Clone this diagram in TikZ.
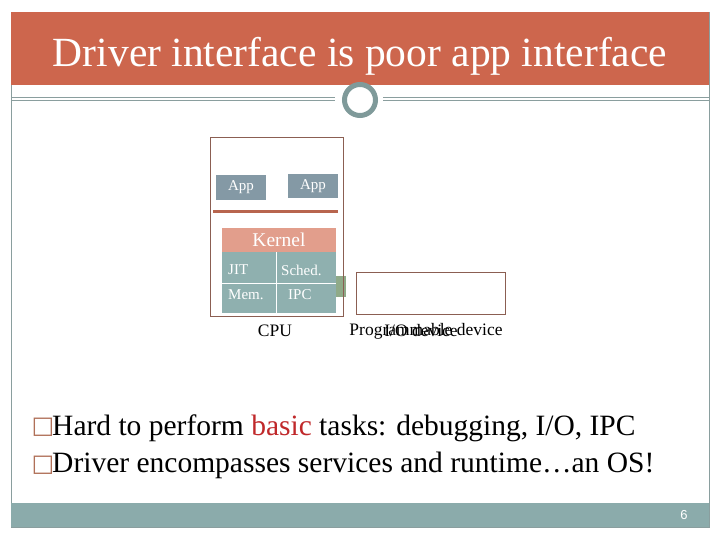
\documentclass[tikz,border=0pt]{standalone}
\usepackage{fontspec}
\setmainfont{Liberation Serif}
\newfontfamily\symfont{DejaVu Sans}
\newfontfamily\numfont{Liberation Sans}
\definecolor{titlered}{HTML}{CD664D}
\definecolor{framegray}{HTML}{8A9E9E}
\definecolor{ringgray}{HTML}{7F9A9A}
\definecolor{teal}{HTML}{8BABAB}
\definecolor{appblue}{HTML}{8499A5}
\definecolor{kernsalmon}{HTML}{E29E8C}
\definecolor{gridteal}{HTML}{8FB0AF}
\definecolor{boxbrown}{HTML}{8B5E52}
\definecolor{linered}{HTML}{B8654E}
\definecolor{greenish}{HTML}{8FAA88}
\definecolor{basicred}{HTML}{C0282A}
\definecolor{bulletbrown}{HTML}{B07058}
\begin{document}
\begin{tikzpicture}[x=1pt,y=-1pt,
  outline/.style={draw=boxbrown,line width=1pt,inner sep=0pt},
  appbox/.style={fill=appblue,text=white,inner sep=0pt,font=\fontsize{15}{15}\selectfont},
  cell/.style={inner sep=0pt,text=white,font=\fontsize{15}{15}\selectfont},
  lbl/.style={inner sep=0pt,font=\fontsize{17.5}{17.5}\selectfont},
  bulletsq/.style={inner sep=0pt,text=bulletbrown,font=\symfont\fontsize{24}{24}\selectfont},
  bullet/.style={inner sep=0pt,anchor=base west,font=\fontsize{29.5}{29.5}\selectfont}]
\useasboundingbox (0,0) rectangle (720,540);
% frame
\fill[white] (0,0) rectangle (720,540);
\draw[framegray,line width=0.8pt] (11,12) rectangle (709,527);
\fill[titlered] (11,12) rectangle (709,85);
\node[inner sep=0pt,anchor=base,text=white,font=\fontsize{41.5}{41.5}\selectfont] (title) at (360,67) {Driver interface is poor app interface};
\fill[teal] (11,503) rectangle (709,527);
\node[inner sep=0pt,text=white,font=\numfont\fontsize{13}{13}\selectfont] (num) at (684,515) {6};
% double lines with circle
\draw[framegray,line width=0.8pt] (11,97.5) -- (335,97.5) (383,97.5) -- (709,97.5);
\draw[framegray,line width=0.8pt] (11,100.5) -- (335,100.5) (383,100.5) -- (709,100.5);
\node[circle,draw=ringgray,line width=5pt,fill=white,minimum size=31pt,inner sep=0pt] (ring) at (360,100) {};
% diagram
\fill[greenish] (336,276) rectangle (346,297);
\node[outline,minimum width=133pt,minimum height=178pt] (cpu) at (276.5,227) {};
\node[appbox,minimum width=50pt,minimum height=25pt] (app1) at (241,187.5) {App};
\node[appbox,minimum width=50pt,minimum height=24pt] (app2) at (313,186.5) {App};
\coordinate (rl) at (213,212);
\coordinate (rr) at (338,212);
\draw[linered,line width=3pt] (rl) -- (rr);
\node[fill=kernsalmon,text=white,inner sep=0pt,minimum width=114pt,minimum height=24pt,font=\fontsize{19.5}{19.5}\selectfont] (kernel) at (279,240) {Kernel};
\node[fill=gridteal,inner sep=0pt,minimum width=114pt,minimum height=61pt] (grid) at (279,282.5) {};
\draw[white,line width=1pt] (276,252) -- (276,313);
\draw[white,line width=1pt] (222,283) -- (336,283);
\node[cell,anchor=west] (jit) at (228,270) {JIT};
\node[cell,anchor=west] (sched) at (281,270) {Sched.};
\node[cell,anchor=west] (mem) at (228,295) {Mem.};
\node[cell,anchor=west] (ipc) at (288,295) {IPC};
\node[outline,minimum width=149pt,minimum height=42pt] (dev) at (430.5,293) {};
\node[lbl] (cpulbl) at (275,331) {CPU};
\node[lbl] (proglbl) at (426,331) {Programmable device};
\node[lbl] (iolbl) at (421,331) {I/O device};
% bullets
\node[bulletsq] (b1) at (43,427) {□};
\node[bullet] (t1) at (52,435) {Hard to perform \textcolor{basicred}{basic} tasks: debugging, I/O, IPC};
\node[bulletsq] (b2) at (43,465) {□};
\node[bullet] (t2) at (52,472) {Driver encompasses services and runtime…an OS!};
\end{tikzpicture}
\end{document}
